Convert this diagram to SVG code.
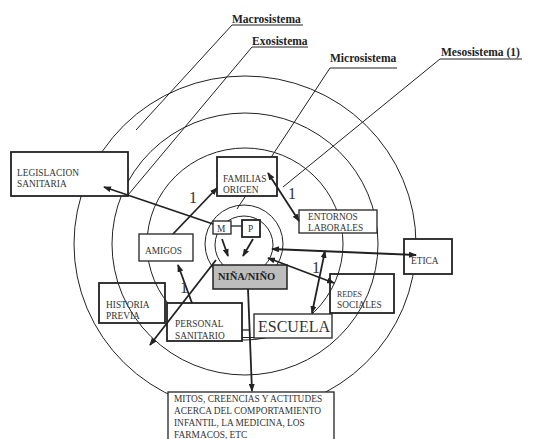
<svg xmlns="http://www.w3.org/2000/svg" width="533" height="439" viewBox="0 0 533 439">
<style>
.ring{fill:none;stroke:#222;stroke-width:1}
.lead{fill:none;stroke:#222;stroke-width:1}
.box{fill:#fff;stroke:#222;stroke-width:1.8}
.tbox{fill:none;stroke:#222;stroke-width:1.8}
.thin{stroke-width:1.3}
.t{font-family:"Liberation Serif","Times New Roman",serif;font-size:9.4px;fill:#333}
.lab{font-family:"Liberation Serif","Times New Roman",serif;font-size:11.5px;font-weight:bold;fill:#222}
.one{font-family:"Liberation Serif","Times New Roman",serif;font-size:16px;fill:#333}
.c{fill:none;stroke:#222;stroke-width:1.8}
.a{marker-end:url(#ah)}
.aa{marker-end:url(#ah);marker-start:url(#ah)}
</style>
<defs>
<marker id="ah" viewBox="0 0 8 6" refX="7" refY="3" markerWidth="8" markerHeight="6" markerUnits="userSpaceOnUse" orient="auto-start-reverse">
<path d="M0,0 L8,3 L0,6 z" fill="#222"/>
</marker>
</defs>
<rect width="533" height="439" fill="#fff"/>
<g id="rings">
<ellipse class="ring" cx="245" cy="244" rx="171" ry="168"/>
<ellipse class="ring" cx="245" cy="244" rx="133" ry="131"/>
<ellipse class="ring" cx="245" cy="244" rx="98" ry="96"/>
<circle class="ring" cx="244" cy="244" r="39"/>
<circle class="ring" cx="244" cy="245" r="29"/>
</g>
<g id="labels">
<text class="lab" x="232" y="22.5">Macrosistema</text>
<polyline class="lead" points="303,25 232,25 136,130"/>
<text class="lab" x="252" y="44.5">Exosistema</text>
<polyline class="lead" points="308,47 252,47 128,195"/>
<text class="lab" x="330" y="62">Microsistema</text>
<polyline class="lead" points="397,68 330,68 237,209"/>
<text class="lab" x="441" y="56">Mesosistema (1)</text>
<polyline class="lead" points="522,59 440,59 283,187"/>
</g>
<g id="legislacion">
<rect class="box" x="11" y="152" width="117" height="44"/>
<text class="t" x="17" y="176">LEGISLACION</text>
<text class="t" x="17" y="187">SANITARIA</text>
</g>
<g id="familias">
<rect class="box" x="217" y="157" width="60" height="39"/>
<text class="t" x="223" y="182">FAMILIAS</text>
<text class="t" x="223" y="192.5">ORIGEN</text>
</g>
<g id="amigos">
<rect class="box thin" x="139" y="234" width="54" height="27"/>
<text class="t" x="145" y="254">AMIGOS</text>
</g>
<g id="entornos">
<rect class="box thin" x="299" y="210" width="78" height="23"/>
<text class="t" x="308" y="219.5">ENTORNOS</text>
<text class="t" x="308" y="231">LABORALES</text>
</g>
<g id="etica">
<rect class="box" x="404" y="239" width="48" height="35"/>
<text class="t" x="411" y="263.5">ETICA</text>
</g>
<g id="redes">
<rect class="tbox" x="330" y="274" width="64" height="39"/>
<text class="t" x="337" y="297" style="font-size:7.9px">REDES</text>
<text class="t" x="337" y="307.5">SOCIALES</text>
</g>
<g id="historia">
<rect class="tbox" x="99" y="283" width="66" height="40"/>
<text class="t" x="106" y="308">HISTORIA</text>
<text class="t" x="106" y="319">PREVIA</text>
</g>
<g id="personal">
<rect class="box" x="167" y="303" width="75" height="38"/>
<text class="t" x="175" y="327">PERSONAL</text>
<text class="t" x="175" y="339">SANITARIO</text>
</g>
<g id="escuela">
<rect class="box thin" x="254" y="314" width="78" height="24"/>
<text class="t" x="258" y="331.5" style="font-size:16px">ESCUELA</text>
</g>
<g id="mitos">
<rect class="box thin" x="168" y="392" width="166" height="52"/>
<text class="t" x="174" y="402">MITOS, CREENCIAS Y ACTITUDES</text>
<text class="t" x="174" y="414">ACERCA DEL COMPORTAMIENTO</text>
<text class="t" x="174" y="426">INFANTIL, LA MEDICINA, LOS</text>
<text class="t" x="174" y="437.5">FARMACOS, ETC</text>
</g>
<g id="nina">
<rect x="213" y="265" width="74" height="24" fill="#bdbdbd" stroke="#222" stroke-width="1.5"/>
<text x="218" y="279.5" style="font-family:'Liberation Serif','Times New Roman',serif;font-size:10.5px;font-weight:bold;fill:#222">NIÑA/NIÑO</text>
</g>
<g id="m">
<rect class="box thin" x="213" y="221" width="18" height="13"/>
<text class="t" x="217" y="231.5">M</text>
</g>
<g id="p">
<rect class="box" x="242" y="220" width="18" height="17"/>
<text class="t" x="248" y="232">P</text>
</g>
<g id="connectors">
<line class="c a" x1="213" y1="224" x2="104" y2="187"/>
<line class="c a" x1="173" y1="234" x2="217" y2="188"/>
<line class="c aa" x1="268" y1="173" x2="299" y2="221"/>
<line class="c aa" x1="272" y1="249" x2="416" y2="255"/>
<line class="c aa" x1="268" y1="258" x2="334" y2="283"/>
<line class="c aa" x1="312" y1="313" x2="325" y2="251"/>
<line class="c a" x1="192" y1="303" x2="178" y2="265"/>
<line class="c a" x1="216" y1="260" x2="150" y2="345"/>
<line class="c a" x1="248" y1="289" x2="252" y2="391"/>
<line class="c a" x1="222" y1="239" x2="228" y2="256"/>
<line class="c a" x1="253" y1="239" x2="243" y2="256"/>
<line stroke="#222" stroke-width="1.3" x1="231" y1="226" x2="242" y2="226"/>
<line stroke="#222" stroke-width="1.3" x1="242" y1="330" x2="250" y2="330"/>
<line stroke="#222" stroke-width="1" x1="242" y1="337.5" x2="254" y2="337.5"/>
<text class="one" x="189" y="203">1</text>
<text class="one" x="288" y="199">1</text>
<text class="one" x="312" y="273">1</text>
<text class="one" x="180" y="293">1</text>
</g>
</svg>
